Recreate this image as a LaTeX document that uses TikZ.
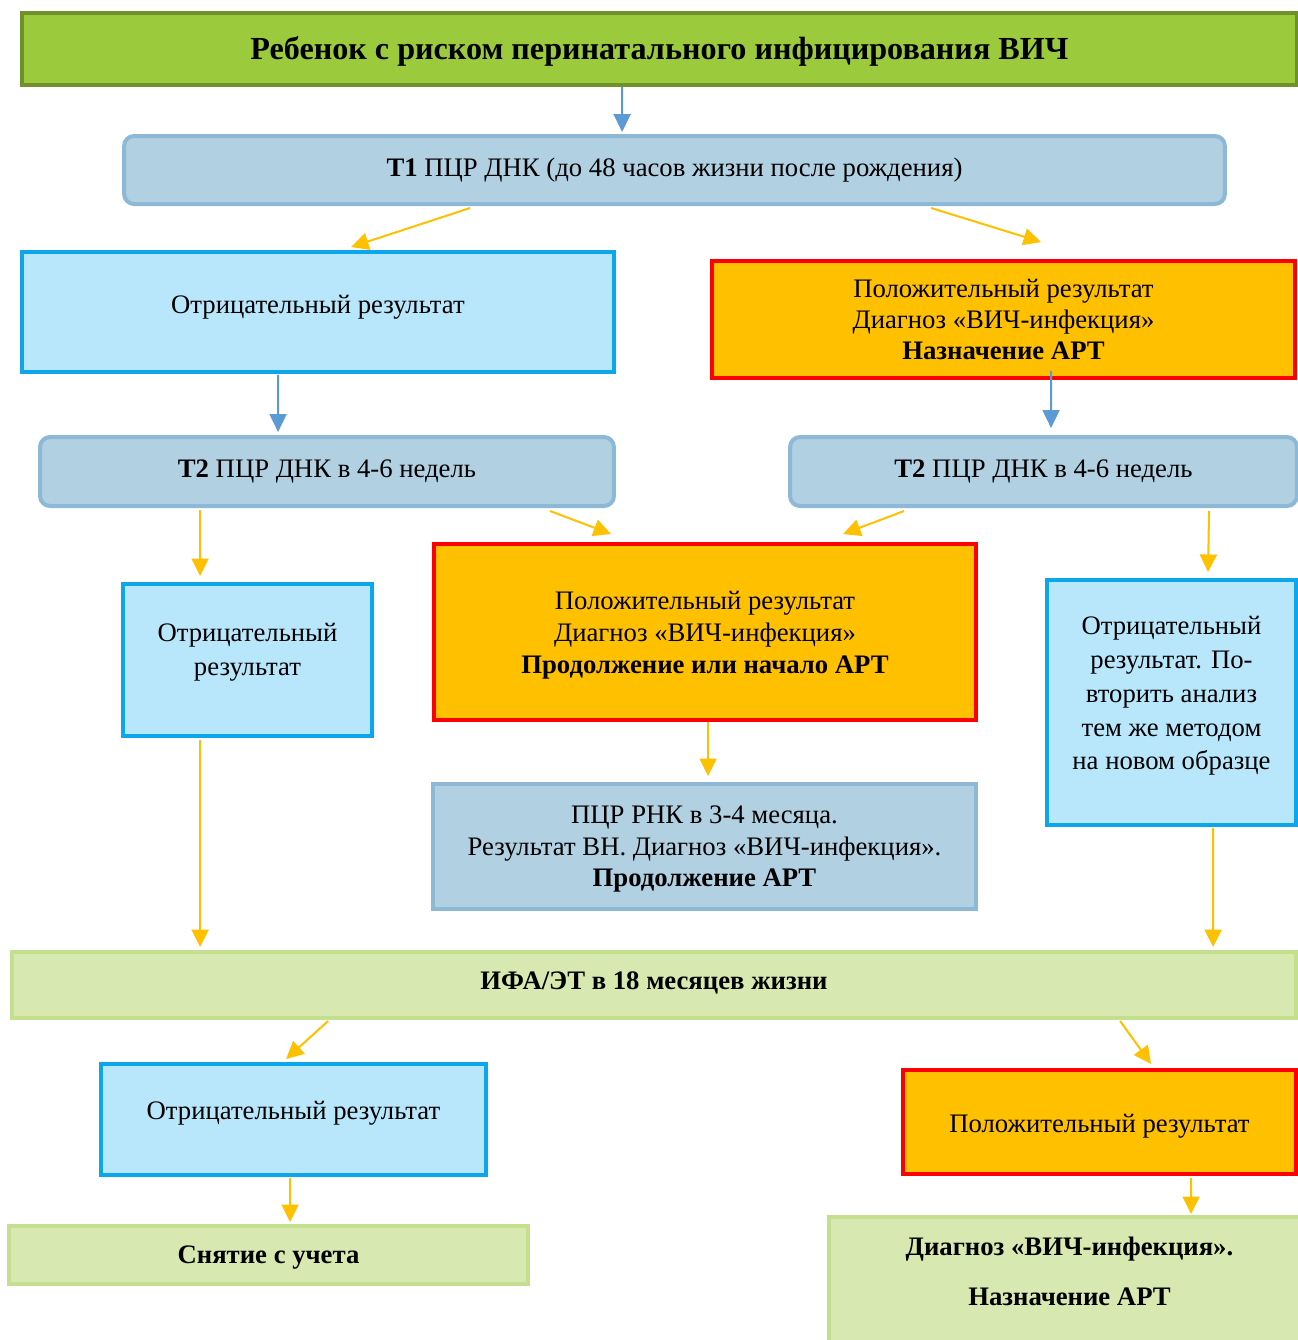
\documentclass[tikz,border=0pt]{standalone}
\usepackage{fontspec}
\setmainfont{Liberation Serif}
\usetikzlibrary{arrows.meta,calc}
\definecolor{topfill}{HTML}{9BCB3C}
\definecolor{topborder}{HTML}{70902A}
\definecolor{tfill}{HTML}{B1D0E2}
\definecolor{tborder}{HTML}{8DB9D6}
\definecolor{negfill}{HTML}{B8E6FB}
\definecolor{negborder}{HTML}{0CA6EC}
\definecolor{posfill}{HTML}{FFC000}
\definecolor{posborder}{HTML}{FF0000}
\definecolor{lgfill}{HTML}{D7E8B0}
\definecolor{lgborder}{HTML}{C4DF8E}
\definecolor{yarrow}{HTML}{FFC000}
\definecolor{barrow}{HTML}{5B9BD5}
\newcommand\fs{\fontsize{15.2}{17.6}\selectfont}
\newcommand\fsw{\fontsize{15.2}{19.3}\selectfont}
\tikzset{
  base/.style={draw, line width=0.08cm, align=center, inner sep=0pt, font=\fs},
  oneline/.style={text height=0.36cm, text depth=#1},
  topbox/.style={base, fill=topfill, draw=topborder, font=\fontsize{18.3}{21}\selectfont\bfseries},
  tbox/.style={base, fill=tfill, draw=tborder, rounded corners=0.2cm},
  rnabox/.style={base, fill=tfill, draw=tborder},
  negbox/.style={base, fill=negfill, draw=negborder},
  posbox/.style={base, fill=posfill, draw=posborder},
  lgbox/.style={base, fill=lgfill, draw=lgborder},
  ya/.style={draw=yarrow, line width=0.04cm, -{Triangle[length=0.35cm,width=0.34cm]}},
  ba/.style={draw=barrow, line width=0.04cm, -{Triangle[length=0.36cm,width=0.34cm]}},
}
\begin{document}
\begin{tikzpicture}[x=0.02cm, y=-0.02cm]
\useasboundingbox (0,0) rectangle (1298,1340);
\clip (0,0) rectangle (1298,1340);
\fill[white] (0,0) rectangle (1298,1340);

\node[topbox, text height=0.56cm, text depth=0.13cm, minimum width=25.5cm, minimum height=1.44cm] (top) at (659.5,49)
  {Ребенок с риском перинатального инфицирования ВИЧ};
\node[tbox, oneline=0.11cm, minimum width=22.02cm, minimum height=1.36cm] (t1) at (674.5,170)
  {\textbf{Т1} ПЦР ДНК (до 48 часов жизни после рождения)};
\node[negbox, oneline=0.31cm, minimum width=11.84cm, minimum height=2.4cm] (neg1) at (318,312)
  {Отрицательный результат};
\node[posbox, minimum width=11.66cm, minimum height=2.34cm] (pos1) at (1003.5,319.5)
  {Положительный результат\\Диагноз «ВИЧ-инфекция»\\\textbf{Назначение АРТ}};
\node[tbox, oneline=0.13cm, minimum width=11.48cm, minimum height=1.38cm] (t2l) at (327,471.5)
  {\textbf{Т2} ПЦР ДНК в 4-6 недель};
\node[tbox, oneline=0.13cm, minimum width=10.14cm, minimum height=1.38cm] (t2r) at (1043.5,471.5)
  {\textbf{Т2} ПЦР ДНК в 4-6 недель};
\node[negbox, font=\fsw, text depth=0.44cm, minimum width=4.98cm, minimum height=3.04cm] (neg2) at (247.5,660)
  {Отрицательный\\результат};
\node[posbox, font=\fontsize{15.2}{18.2}\selectfont, text depth=0cm, minimum width=10.84cm, minimum height=3.52cm] (pos2) at (705,632)
  {Положительный результат\\Диагноз «ВИЧ-инфекция»\\\textbf{Продолжение или начало АРТ}};
\node[negbox, font=\fsw, text depth=0.38cm, minimum width=4.98cm, minimum height=4.9cm] (neg3) at (1171.5,702.5)
  {Отрицательный\\результат. По-\\вторить анализ\\тем же методом\\на новом образце};
\node[rnabox, font=\fontsize{15.2}{17.9}\selectfont, text depth=0cm, minimum width=10.86cm, minimum height=2.5cm] (rna) at (704.5,846.5)
  {ПЦР РНК в 3-4 месяца.\\Результат ВН. Диагноз «ВИЧ-инфекция».\\\textbf{Продолжение АРТ}};
\node[lgbox, oneline=0.19cm, minimum width=25.68cm, minimum height=1.32cm] (ifa) at (654,985)
  {\textbf{ИФА/ЭТ в 18 месяцев жизни}};
\node[negbox, oneline=0.37cm, minimum width=7.7cm, minimum height=2.22cm] (neg4) at (293.5,1119.5)
  {Отрицательный результат};
\node[posbox, text height=0.56cm, text depth=0.13cm, minimum width=7.86cm, minimum height=2.08cm] (pos4) at (1099.5,1122)
  {Положительный результат};
\node[lgbox, text height=0.48cm, text depth=0.13cm, minimum width=10.38cm, minimum height=1.16cm] (sn) at (268.5,1255)
  {\textbf{Снятие с учета}};
\node[lgbox, text depth=0.50cm, minimum width=9.62cm, minimum height=2.66cm] (diag) at (1069.5,1283.5)
  {\textbf{Диагноз «ВИЧ-инфекция».}\\[10.8pt]\textbf{Назначение АРТ}};

% connectors
\draw[ba] ($(top.south west)+(602,0)$) -- ($(t1.north west)+(500,-2)$);
\draw[ya] ($(t1.south west)+(348,2)$) -- ($(neg1.north west)+(331,-3)$);
\draw[ya] ($(t1.south west)+(809,2)$) -- ($(pos1.north west)+(331,-17)$);
\draw[ba] ($(neg1.south west)+(258,1)$) -- ($(t2l.north west)+(240,-3)$);
\draw[ba] ($(pos1.south west)+(341,-9)$) -- ($(t2r.north west)+(263,-7)$);
\draw[ya] ($(t2l.south west)+(162,2)$) -- ($(neg2.north west)+(79,-6)$);
\draw[ya] ($(t2l.south west)+(512,3)$) -- ($(pos2.north west)+(179,-8)$);
\draw[ya] ($(t2r.south west)+(116,3)$) -- ($(pos2.north west)+(411,-8)$);
\draw[ya] ($(t2r.south west)+(421,3)$) -- ($(neg3.north west)+(163,-6)$);
\draw[ya] ($(neg2.south west)+(79,2)$) -- ($(ifa.north west)+(190,-3)$);
\draw[ya] ($(pos2.south west)+(276,0)$) -- ($(rna.north west)+(277,-6)$);
\draw[ya] ($(neg3.south west)+(168,1)$) -- ($(ifa.north west)+(1203,-3)$);
\draw[ya] ($(ifa.south west)+(318,1)$) -- ($(neg4.north west)+(187,-3)$);
\draw[ya] ($(ifa.south west)+(1110,1)$) -- ($(pos4.north west)+(250,-4)$);
\draw[ya] ($(neg4.south west)+(191,1)$) -- ($(sn.north west)+(283,-2)$);
\draw[ya] ($(pos4.south west)+(290,2)$) -- ($(diag.north west)+(364,-1)$);
\end{tikzpicture}
\end{document}
